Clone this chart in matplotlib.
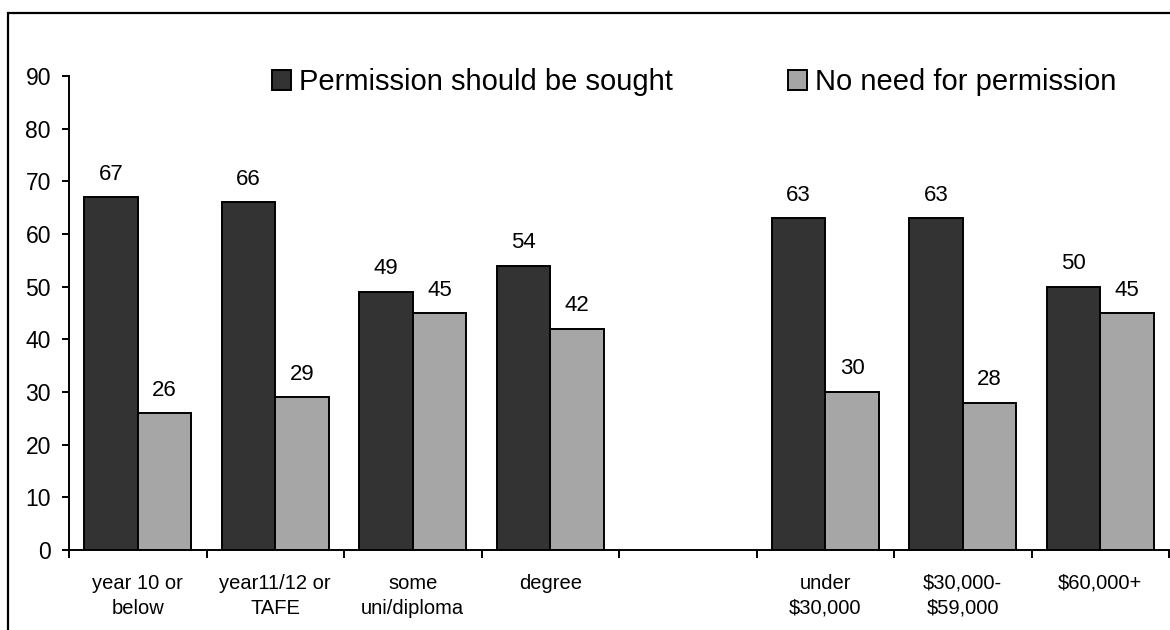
import numpy as np
import matplotlib
matplotlib.use("Agg")
import matplotlib.pyplot as plt
from matplotlib.patches import Rectangle
from matplotlib.ticker import FixedLocator

plt.rcParams["font.family"] = ["Liberation Sans", "DejaVu Sans"]

# Survey results (%) by education and by household income; the blank slot separates the two groups
categories = ["year 10 or\nbelow", "year11/12 or\nTAFE", "some\nuni/diploma", "degree", "",
              "under\n$30,000", "$30,000-\n$59,000", "$60,000+"]
sought = [67, 66, 49, 54, None, 63, 63, 50]
no_need = [26, 29, 45, 42, None, 30, 28, 45]
series_names = ["Permission should be sought", "No need for permission"]
y_ticks = [0, 10, 20, 30, 40, 50, 60, 70, 80, 90]

dark = "#333333"
light = "#a6a6a6"

W, H, DPI = 1170, 630, 100
fig = plt.figure(figsize=(W / DPI, H / DPI), dpi=DPI)
ax = fig.add_axes([69 / W, (H - 550) / H, 1100 / W, (550 - 76) / H])

x_all = np.arange(len(categories))
idx = [i for i, v in enumerate(sought) if v is not None]
xs = x_all[idx]
s_vals = [sought[i] for i in idx]
n_vals = [no_need[i] for i in idx]

bw = 0.39
b1 = ax.bar(xs - bw / 2, s_vals, bw, color=dark, edgecolor="black", linewidth=1.4,
            label=series_names[0], zorder=2)
b2 = ax.bar(xs + bw / 2, n_vals, bw, color=light, edgecolor="black", linewidth=1.4,
            label=series_names[1], zorder=2)
ax.bar_label(b1, padding=9, fontsize=16)
ax.bar_label(b2, padding=9, fontsize=16)

ax.set_xlim(-0.5, len(categories) - 0.5)
ax.set_ylim(0, 90)
ax.set_yticks(y_ticks)
ax.tick_params(axis="y", labelsize=16.5, length=5, width=1.4, pad=8, direction="out")

ax.set_xticks(x_all)
ax.set_xticklabels(categories, fontsize=14.5, linespacing=1.4)
ax.tick_params(axis="x", which="major", length=0, pad=17)
ax.xaxis.set_minor_locator(FixedLocator(np.arange(len(categories) + 1) - 0.5))
ax.tick_params(axis="x", which="minor", length=6, width=1.4, direction="out")

for side in ("top", "right"):
    ax.spines[side].set_visible(False)
for side in ("left", "bottom"):
    ax.spines[side].set_linewidth(1.4)

leg = ax.legend(loc="center left", bbox_to_anchor=(272 / W, (H - 82) / H),
                bbox_transform=fig.transFigure, ncol=2, frameon=False,
                fontsize=21, handlelength=0.66, handleheight=0.68,
                handletextpad=0.28, columnspacing=3.92, borderpad=0, borderaxespad=0)

# Outer chart-area border
fig.patches.append(Rectangle((8 / W, -0.1), 1.2, (H - 13) / H + 0.1,
                             transform=fig.transFigure, fill=False,
                             edgecolor="black", linewidth=1.6))

fig.savefig("out.png", dpi=DPI)
